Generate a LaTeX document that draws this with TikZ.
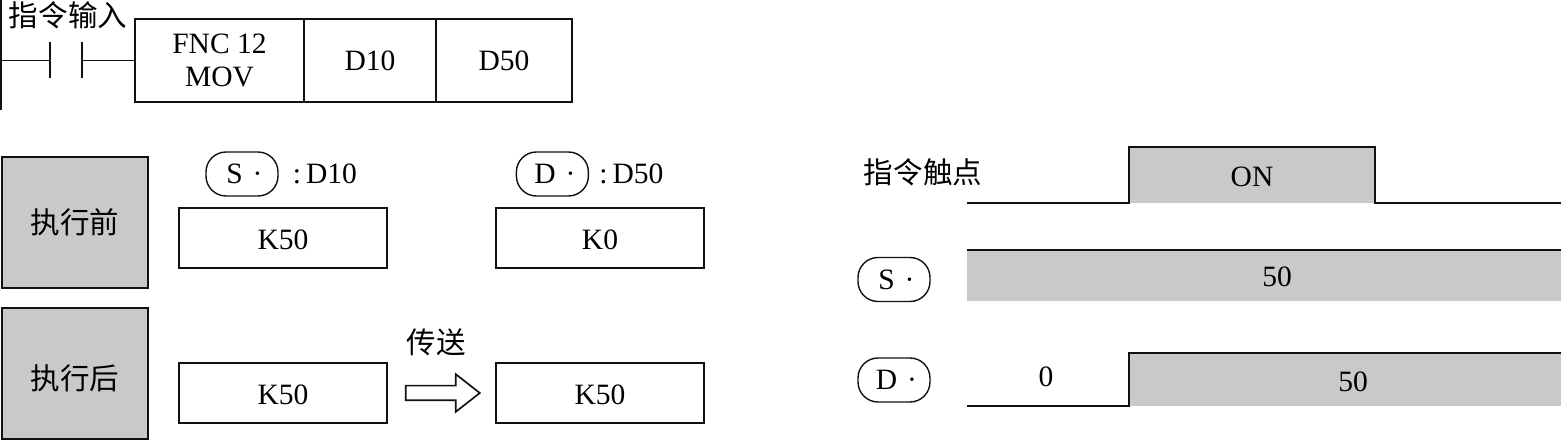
\documentclass[tikz,border=0pt]{standalone}
\usepackage{xcolor}
\usepackage{fontspec}
\setmainfont{Liberation Serif}
\newfontfamily\cjk{Noto Sans CJK SC}
\usetikzlibrary{positioning,shapes.arrows}
\definecolor{PlcGray}{HTML}{C9C9C9}
\definecolor{PlcInk}{HTML}{111111}
\tikzset{
  plcfont/.style={font=\fontsize{21}{23.5}\selectfont},
  plcbox/.style={draw=PlcInk, line width=1.3pt, fill=white, outer sep=0pt, align=center, plcfont},
  regbox/.style={plcbox, minimum width=5.2cm, minimum height=1.5cm, text height=16.5pt},
  statebox/.style={plcbox, fill=PlcGray, line width=1.1pt, minimum width=3.65cm, minimum height=3.275cm},
  opnd/.style={draw=PlcInk, line width=1pt, rounded corners=0.5cm, minimum width=1.8cm, minimum height=1.1cm, inner sep=0pt, plcfont},
  plain/.style={inner sep=0pt, plcfont},
  wavefill/.style={fill=PlcGray, inner sep=0pt, outer sep=0pt, plcfont},
  wire/.style={draw=PlcInk, line width=1.4pt},
  wave/.style={draw=PlcInk, line width=1.4pt}
}
\begin{document}
\begin{tikzpicture}[x=1cm,y=1cm]
  \useasboundingbox (0,0) rectangle (39.025,11);
  % instruction rung
  \node[plcbox, minimum width=4.225cm, minimum height=2.075cm] (fnc) at (5.4875,9.4875) {FNC 12\\MOV};
  \node[plcbox, minimum width=3.3cm, minimum height=2.075cm, right=0pt of fnc] (srcreg) {D10};
  \node[plcbox, minimum width=3.4cm, minimum height=2.075cm, right=0pt of srcreg] (dstreg) {D50};
  \node[plain] (inlabel) at (1.7,10.625) {\cjk 指令输入};
  \coordinate (railtop) at (0.03,11);
  \coordinate (railbot) at (0.03,8.25);
  \coordinate (railtap) at (0.03,9.4875);
  \coordinate (contactL) at (1.25,9.4875);
  \coordinate (contactR) at (2.04,9.4875);
  \draw[wire] (railtop) -- (railbot);
  \draw[wire] (railtap) -- (contactL);
  \draw[wire] ([yshift=0.45cm]contactL) -- ([yshift=-0.45cm]contactL);
  \draw[wire] ([yshift=0.45cm]contactR) -- ([yshift=-0.45cm]contactR);
  \draw[wire] (contactR) -- (fnc.west);
  % before and after
  \node[statebox] (before) at (1.875,5.4375) {\cjk 执行前};
  \node[statebox, below=0.5cm of before, text height=24.5pt] (after) {\cjk 执行后};
  \node[regbox] (srcold) at (7.075,5.05) {K50};
  \node[regbox, right=2.725cm of srcold] (dstold) {K0};
  \node[regbox, below=2.375cm of srcold] (srcnew) {K50};
  \node[regbox, right=2.725cm of srcnew] (dstnew) {K50};
  \node[opnd] (sbefore) at (6.05,6.65) {\,S\,\,·};
  \node[plain, right=0.35cm of sbefore] (sname) {:\,D10};
  \node[opnd] (dbefore) at (13.81,6.65) {\,D\,\,·};
  \node[plain, right=0.25cm of dbefore] (dname) {:\,D50};
  \node[single arrow, draw=PlcInk, line width=1.2pt, inner sep=0.1625cm, outer sep=0pt, minimum width=0.9cm, minimum height=1.85cm, single arrow head extend=0.2875cm, single arrow tip angle=76, single arrow head indent=0pt, right=0.47cm of srcnew] (sendarrow) {};
  \node[plain] (sendlabel) at (10.9,2.45) {\cjk 传送};
  % timing chart
  \node[plain] (triglabel) at (23.075,6.7) {\cjk 指令触点};
  \node[wavefill, minimum width=6.15cm, minimum height=1.4cm, text height=17pt] (onpulse) at (31.3,6.625) {ON};
  \coordinate (trigstart) at (24.175,5.925);
  \coordinate (trigend) at (39.025,5.925);
  \draw[wave] (trigstart) -- (onpulse.south west) -- (onpulse.north west) -- (onpulse.north east) -- (onpulse.south east) -- (trigend);
  \node[opnd] (sside) at (22.35,4.0125) {\,S\,\,·};
  \node[wavefill, minimum width=14.85cm, minimum height=1.275cm] (sbar) at (31.6,4.1125) {};
  \node[plain] (sval) at (31.925,4.075) {50};
  \draw[wave] (sbar.north west) -- (sbar.north east);
  \node[opnd] (dside) at (22.35,1.5) {\,D\,\,·};
  \node[wavefill, minimum width=10.8cm, minimum height=1.325cm] (dbar) at (33.625,1.5125) {};
  \node[plain] (dold) at (26.15,1.575) {0};
  \node[plain] (dval) at (33.825,1.45) {50};
  \coordinate (dstart) at (24.175,0.85);
  \draw[wave] (dstart) -- (dbar.south west) -- (dbar.north west) -- (dbar.north east);
\end{tikzpicture}
\end{document}
